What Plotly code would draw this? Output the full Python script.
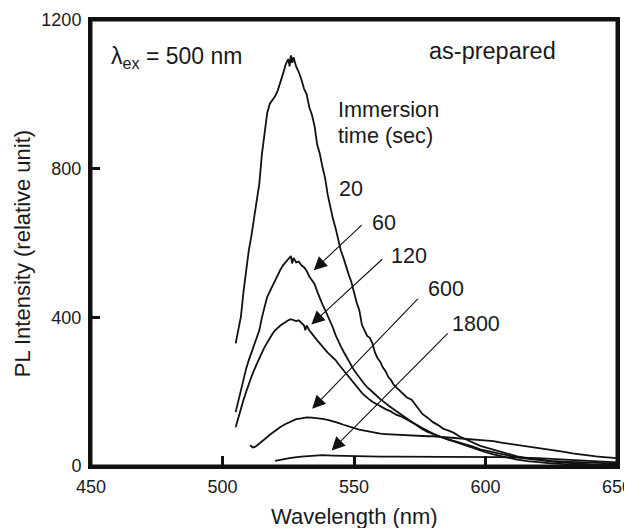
import plotly.graph_objects as go

# ---- data ----
wl_20 = [505, 506, 507, 508, 509, 510, 511, 512, 513, 514, 515, 516, 517, 518, 519, 520, 521, 522, 523, 524,
         525, 525.5, 526, 526.5, 527, 528, 529, 530, 531, 532, 533, 534, 535, 536, 537, 538, 539, 540, 541, 542,
         543, 544, 545, 546, 547, 548, 549, 550, 551, 552, 553, 554, 555, 556, 557, 558, 559, 560, 561, 562,
         563, 564, 565, 566, 567, 568, 570, 572, 574, 576, 578, 580, 582, 584, 586, 588, 590, 592, 594, 596,
         598, 600, 603, 606, 609, 612, 616, 620, 625, 630, 635, 640, 645, 650]
pl_20 = [330, 370, 402, 470, 530, 580, 620, 665, 705, 760, 840, 890, 950, 975, 985, 995, 1010, 1030, 1055, 1080,
         1095, 1075, 1105, 1085, 1100, 1075, 1060, 1040, 1015, 1000, 965, 945, 915, 865, 840, 805, 775, 730, 695, 665,
         640, 605, 580, 560, 535, 515, 495, 465, 440, 420, 380, 365, 350, 345, 330, 305, 290, 280, 265, 255,
         240, 232, 220, 212, 205, 198, 185, 178, 160, 140, 130, 118, 110, 100, 95, 89, 80, 73, 66, 60,
         54, 50, 44, 37, 31, 26, 21, 17, 14, 12, 10, 9, 8, 7]

wl_60 = [505, 506, 507, 508, 509, 510, 511, 512, 513, 514, 515, 516, 517, 518, 519, 520, 521, 522, 523, 524,
         525, 526, 526.5, 527, 528, 529, 530, 531, 532, 533, 534, 535, 536, 537, 538, 539, 540, 541, 542, 543,
         544, 545, 546, 547, 548, 549, 550, 551, 552, 553, 554, 555, 556, 557, 558, 560, 562, 564, 566, 568,
         570, 572, 574, 576, 578, 580, 582, 584, 586, 588, 590, 592, 594, 596, 598, 600, 603, 606, 609, 612,
         616, 620, 625, 630, 635, 640, 645, 650]
pl_60 = [145, 175, 205, 235, 262, 285, 305, 322, 340, 365, 400, 430, 455, 470, 485, 500, 515, 528, 540, 548,
         555, 565, 545, 560, 548, 550, 540, 535, 525, 510, 500, 490, 470, 450, 435, 420, 405, 390, 372, 352,
         335, 322, 308, 295, 283, 270, 258, 248, 238, 230, 220, 212, 205, 198, 193, 180, 168, 158, 148, 138,
         127, 117, 108, 99, 92, 86, 80, 75, 70, 66, 61, 56, 50, 46, 41, 37, 31, 26, 21, 17,
         13, 10, 7, 5, 4, 3, 2, 2]

wl_120 = [505, 506, 507, 508, 509, 510, 511, 512, 513, 514, 515, 516, 517, 518, 519, 520, 521, 522, 523, 524,
          525, 526, 527, 528, 529, 530, 531, 531.5, 532, 533, 534, 535, 536, 537, 538, 539, 540, 541, 542, 543,
          544, 545, 546, 547, 548, 549, 550, 551, 552, 553, 554, 555, 556, 557, 558, 560, 562, 564, 566, 568,
          570, 572, 574, 576, 578, 580, 583, 586, 589, 592, 595, 598, 601, 604, 607, 610, 614, 618, 622, 626,
          630, 635, 640, 645, 650]
pl_120 = [104, 130, 155, 178, 200, 222, 240, 258, 275, 292, 305, 320, 333, 345, 356, 365, 372, 378, 383, 388,
          392, 395, 392, 390, 392, 385, 378, 365, 378, 365, 355, 347, 338, 330, 320, 313, 305, 298, 290, 285,
          275, 266, 258, 249, 240, 232, 223, 214, 205, 197, 190, 183, 178, 173, 169, 160, 153, 147, 138, 133,
          126, 118, 110, 102, 94, 87, 78, 72, 66, 61, 53, 45, 40, 36, 30, 26, 21, 17, 14, 11,
          9, 6, 4, 3, 2]

wl_600 = [510.5, 511.5, 512.5, 514, 516, 518, 520, 522, 524, 526, 528, 530, 532, 534, 536, 538, 540, 542, 544, 546,
          548, 550, 552, 554, 556, 558, 560, 562, 564, 566, 568, 570, 572, 574, 576, 578, 580, 582, 584, 586,
          588, 590, 592, 594, 596, 598, 600, 603, 606, 609, 612, 615, 618, 621, 624, 627, 630, 633, 636, 639,
          642, 645, 648, 650]
pl_600 = [56, 50, 52, 60, 72, 84, 95, 105, 113, 120, 126, 128, 131, 130, 129, 127, 124, 121, 116, 111,
          106, 102, 98, 95, 92, 89, 87, 86, 85, 84, 83, 83, 83, 82, 81, 80, 80, 79, 78, 77,
          76, 75, 74, 73, 72, 71, 70, 67, 63, 60, 56, 53, 50, 47, 44, 41, 38, 34, 31, 28,
          26, 24, 22, 21]

wl_1800 = [520, 523, 526, 530, 534, 538, 542, 546, 550, 555, 560, 565, 570, 575, 580, 585, 590, 595, 600, 605,
           610, 615, 620, 625, 630, 635, 640, 645, 650]
pl_1800 = [14, 18, 22, 25, 27, 29, 28, 27, 26, 26, 25, 25, 25, 26, 25, 25, 26, 25, 25, 24,
           23, 23, 21, 19, 17, 15, 13, 11, 10]

x_ticks = [450, 500, 550, 600, 650]
y_ticks = [0, 400, 800, 1200]

# labels for the curves and their arrows (head, tail)
label_text = ["60", "120", "600", "1800"]
label_pos = [(561.5, 653), (571.1, 565), (584.8, 475), (596.4, 383)]
arrow_head = [(534.7, 527), (533.8, 381), (534.1, 154), (541.5, 42)]
arrow_tail = [(553.5, 652), (561.3, 560), (574.8, 454), (586.2, 361)]

FONT = "Liberation Sans, Arial, Helvetica, sans-serif"
INK = "#1a1a1a"

fig = go.Figure()
for wl, pl in [(wl_20, pl_20), (wl_60, pl_60), (wl_120, pl_120), (wl_600, pl_600), (wl_1800, pl_1800)]:
    fig.add_trace(go.Scatter(x=wl, y=pl, mode="lines",
                             line=dict(color="#111111", width=1.8),
                             showlegend=False, hoverinfo="skip"))

annotations = []
annotations.append(dict(x=482.5, y=1100, text="λ<sub>ex</sub> = 500 nm", showarrow=False,
                        font=dict(size=23, color=INK, family=FONT), xanchor="center", yanchor="middle"))
annotations.append(dict(x=602.8, y=1116, text="as-prepared", showarrow=False,
                        font=dict(size=23.5, color=INK, family=FONT), xanchor="center", yanchor="middle"))
annotations.append(dict(x=543.3, y=958, text="Immersion", showarrow=False,
                        font=dict(size=21.7, color=INK, family=FONT), xanchor="left", yanchor="middle"))
annotations.append(dict(x=543.3, y=888, text="time (sec)", showarrow=False,
                        font=dict(size=21.7, color=INK, family=FONT), xanchor="left", yanchor="middle"))
annotations.append(dict(x=548.9, y=745, text="20", showarrow=False,
                        font=dict(size=21.5, color=INK, family=FONT), xanchor="center", yanchor="middle"))
for t, (lx, ly) in zip(label_text, label_pos):
    annotations.append(dict(x=lx, y=ly, text=t, showarrow=False,
                            font=dict(size=21.5, color=INK, family=FONT), xanchor="center", yanchor="middle"))
for (hx, hy), (tx, ty) in zip(arrow_head, arrow_tail):
    annotations.append(dict(x=hx, y=hy, ax=tx, ay=ty, xref="x", yref="y", axref="x", ayref="y",
                            text="", showarrow=True, arrowhead=2, arrowsize=2.4, arrowwidth=1.1,
                            arrowcolor="#111111", standoff=0, startstandoff=0))
# axis titles (paper coordinates)
annotations.append(dict(x=0.5, y=-0.114, xref="paper", yref="paper", text="Wavelength (nm)",
                        showarrow=False, font=dict(size=22, color=INK, family=FONT),
                        xanchor="center", yanchor="middle"))
annotations.append(dict(x=-0.131, y=0.475, xref="paper", yref="paper", text="PL Intensity (relative unit)",
                        showarrow=False, textangle=-90, font=dict(size=22, color=INK, family=FONT),
                        xanchor="center", yanchor="middle"))

# the page body has an 8px margin, so the figure is 8px smaller and margins shifted
fig.update_layout(
    width=624, height=520,
    margin=dict(l=83, r=15, t=12, b=62, autoexpand=False),
    paper_bgcolor="white", plot_bgcolor="white",
    annotations=annotations,
    font=dict(family=FONT, color=INK),
    shapes=[dict(type="rect", xref="paper", yref="paper", x0=0, y0=0, x1=1, y1=1,
                 line=dict(color="#111111", width=3), fillcolor="rgba(0,0,0,0)", layer="above")],
)
fig.update_xaxes(range=[450, 650], tickvals=x_ticks, ticktext=[str(v) for v in x_ticks],
                 ticks="inside", ticklen=10, tickwidth=2.5, tickcolor="#111111", ticklabelstandoff=2,
                 ticklabeloverflow="allow",
                 showline=True, linecolor="#111111", linewidth=3, mirror=True, automargin=False,
                 showgrid=False, zeroline=False, tickfont=dict(size=18, color=INK, family=FONT))
fig.update_yaxes(range=[0, 1200], tickvals=y_ticks, ticktext=[str(v) for v in y_ticks],
                 ticks="inside", ticklen=9, tickwidth=2.5, tickcolor="#111111", ticklabelstandoff=3,
                 ticklabeloverflow="allow",
                 showline=True, linecolor="#111111", linewidth=3, mirror=True, automargin=False,
                 showgrid=False, zeroline=False, tickfont=dict(size=18, color=INK, family=FONT))

fig.write_html("out.html")
